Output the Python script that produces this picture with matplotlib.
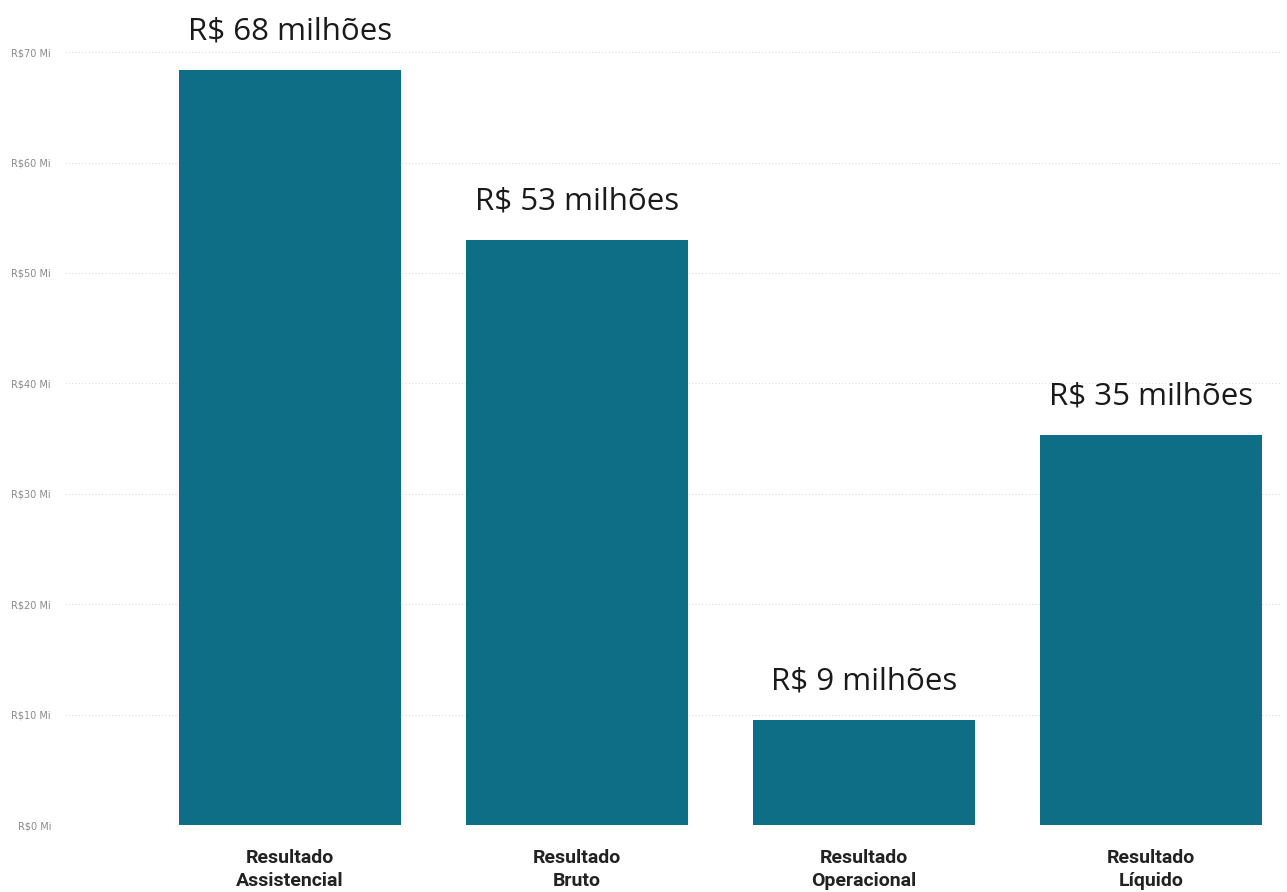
import matplotlib.pyplot as plt
import numpy as np

categorias = ["Resultado\nAssistencial", "Resultado\nBruto", "Resultado\nOperacional", "Resultado\nLíquido"]
valores = [68.4, 53.0, 9.5, 35.3]
rotulos = ["R$ 68 milhões", "R$ 53 milhões", "R$ 9 milhões", "R$ 35 milhões"]
ticks = [0, 10, 20, 30, 40, 50, 60, 70]

fig = plt.figure(figsize=(12.87, 8.92), dpi=100)
ax = fig.add_axes([0.0505, 0.0751, 0.944, 0.880])

x = np.arange(len(categorias))
bars = ax.bar(x, valores, width=0.774, color="#0e6e86", zorder=2)

for b, txt in zip(bars, rotulos):
    ax.annotate(txt, (b.get_x() + b.get_width() / 2, b.get_height()),
                xytext=(0, 17), textcoords="offset points",
                ha="center", va="bottom", fontsize=22.5, family="Open Sans",
                color="#1a1a1a")

ax.set_xlim(-0.784, 3.45)
ax.set_ylim(0, 71.1)
ax.set_yticks(ticks)
ax.set_yticklabels([f"R${t} Mi" for t in ticks], fontsize=7, color="#8a8a8a")
ax.set_xticks(x)
ax.set_xticklabels(categorias, fontsize=14, fontweight="bold", family="Roboto",
                   color="#222222", linespacing=1.4)
ax.tick_params(axis="both", length=0)
ax.tick_params(axis="y", pad=10)
ax.tick_params(axis="x", pad=17)
for s in ax.spines.values():
    s.set_visible(False)
ax.yaxis.grid(True, linestyle=(0, (1, 2)), color="#dcdcdc", linewidth=0.8, zorder=0)

fig.savefig("out.png", dpi=100)
